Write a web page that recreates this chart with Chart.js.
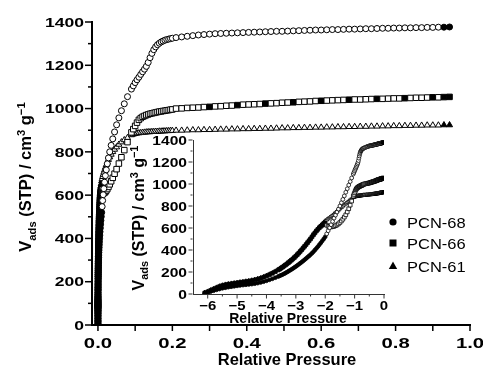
<!DOCTYPE html>
<html>
<head>
<meta charset="utf-8">
<script src="https://cdn.jsdelivr.net/npm/chart.js@4.4.1/dist/chart.umd.min.js"></script>
<style>
html, body { margin: 0; padding: 0; background: #fff; }
#wrap { position: relative; width: 483px; height: 369px; }
#wrap canvas { position: absolute; left: 0; top: 0; }
</style>
</head>
<body>
<div id="wrap">
  <canvas id="mainChart" width="483" height="369"></canvas>
  <canvas id="insetChart" width="483" height="369"></canvas>
</div>
<script>
// low pressure points, stored as log10(P/P0)
var lowLogP = [-6.1, -6.0, -5.9, -5.8, -5.7, -5.6, -5.5, -5.4, -5.3, -5.2,
    -5.1, -5.0, -4.9, -4.8, -4.7, -4.6, -4.5, -4.4, -4.3, -4.2,
    -4.1, -4.0, -3.9, -3.8, -3.7, -3.6,
    -3.55, -3.5, -3.45, -3.4, -3.35, -3.3, -3.25, -3.2, -3.15, -3.1,
    -3.05, -3.0, -2.95, -2.9, -2.85, -2.8, -2.75, -2.7, -2.65, -2.6,
    -2.55, -2.5, -2.45, -2.4, -2.35, -2.3, -2.25, -2.2, -2.15, -2.1,
    -2.05, -2.0, -1.95, -1.9, -1.85, -1.8, -1.75, -1.7, -1.65, -1.6,
    -1.55, -1.5, -1.45, -1.4, -1.35, -1.3, -1.25, -1.2, -1.15, -1.1];

// higher pressure points, stored as P/P0
var highP = [0.09, 0.095, 0.10, 0.105, 0.11, 0.115, 0.12, 0.125, 0.13, 0.135,
    0.14, 0.145, 0.15, 0.155, 0.16, 0.165, 0.17, 0.175, 0.18, 0.185,
    0.19, 0.195, 0.20,
    0.21, 0.225, 0.24, 0.255, 0.27, 0.285, 0.30, 0.315, 0.33, 0.345,
    0.36, 0.375, 0.39, 0.405, 0.42, 0.435, 0.45, 0.465, 0.48, 0.495,
    0.51, 0.525, 0.54, 0.555, 0.57, 0.585, 0.60, 0.615, 0.63, 0.645,
    0.66, 0.675, 0.69, 0.705, 0.72, 0.735, 0.75, 0.765, 0.78, 0.795,
    0.81, 0.825, 0.84, 0.855, 0.87, 0.885, 0.90, 0.915, 0.93, 0.945];

// PCN-68 (circles)
var pcn68Low = [8, 15, 22, 30, 38, 45, 52, 57, 62, 66,
    70, 74, 78, 81, 84, 87, 90, 94, 99, 105,
    112, 120, 129, 138, 148, 159,
    165, 171, 177, 184, 191, 199, 207, 215, 223, 232,
    241, 250, 260, 270, 280, 290, 301, 312, 323, 335,
    346, 358, 371, 385, 400, 415, 431, 448, 465, 483,
    501, 520, 547, 575, 602, 630, 660, 690, 717, 745,
    772, 800, 830, 860, 892, 925, 957, 990, 1022, 1055];
var pcn68High = [1090, 1105, 1120, 1133, 1145, 1158, 1170, 1182, 1195, 1213,
    1235, 1255, 1272, 1285, 1295, 1302, 1308, 1312, 1316, 1319,
    1321, 1323, 1325,
    1328, 1331, 1334, 1337, 1340, 1342, 1344, 1346, 1347, 1348,
    1349, 1350, 1351, 1352, 1353, 1354, 1355, 1356, 1357, 1357,
    1358, 1359, 1360, 1361, 1362, 1363, 1363, 1364, 1365, 1365,
    1366, 1367, 1367, 1368, 1369, 1369, 1370, 1371, 1371, 1372,
    1372, 1373, 1373, 1374, 1374, 1375, 1375, 1376, 1376, 1377];

// PCN-66 (squares)
var pcn66Low = [10, 20, 32, 44, 56, 67, 76, 83, 88, 92,
    96, 100, 104, 108, 112, 116, 121, 127, 134, 142,
    152, 163, 175, 188, 202, 218,
    226, 235, 244, 254, 264, 274, 285, 296, 307, 319,
    331, 344, 358, 372, 387, 402, 418, 434, 450, 467,
    484, 501, 520, 539, 556, 573, 588, 603, 615, 625,
    632, 635, 625, 615, 612, 610, 612, 615, 621, 628,
    638, 650, 664, 680, 699, 720, 746, 775, 808, 845];
var pcn66High = [890, 905, 920, 935, 948, 956, 962, 966, 970, 973,
    976, 978, 980, 982, 984, 986, 987, 989, 990, 992,
    993, 995, 996,
    1000, 1001, 1003, 1004, 1005, 1007, 1008, 1010, 1011, 1013,
    1014, 1016, 1018, 1019, 1020, 1021, 1023, 1024, 1025, 1027,
    1028, 1029, 1031, 1032, 1033, 1035, 1036, 1037, 1038, 1039,
    1040, 1041, 1042, 1042, 1043, 1044, 1045, 1045, 1046, 1047,
    1047, 1048, 1049, 1050, 1050, 1051, 1052, 1052, 1053, 1054];

// PCN-61 (triangles)
var pcn61Low = [15, 25, 38, 50, 62, 73, 82, 89, 94, 98,
    102, 106, 110, 114, 118, 122, 127, 133, 140, 148,
    158, 169, 181, 194, 208, 224,
    232, 241, 250, 260, 270, 280, 291, 302, 313, 325,
    337, 350, 364, 378, 393, 408, 424, 440, 456, 473,
    490, 507, 526, 545, 563, 580, 596, 612, 626, 640,
    653, 665, 675, 685, 695, 705, 716, 728, 740, 752,
    764, 776, 788, 800, 811, 822, 834, 845, 855, 865];
var pcn61High = [878, 881, 884, 886, 887, 888, 889, 890, 891, 892,
    892, 893, 893, 894, 894, 895, 895, 896, 896, 897,
    897, 898, 898,
    899, 899, 900, 901, 901, 902, 902, 903, 904, 904,
    905, 905, 906, 906, 907, 907, 908, 908, 909, 910,
    910, 911, 911, 912, 912, 913, 913, 914, 914, 915,
    915, 916, 916, 917, 917, 918, 918, 919, 919, 920,
    920, 921, 921, 922, 922, 923, 923, 923, 924, 924];

var seriesNames = ['PCN-68', 'PCN-66', 'PCN-61'];

// tick values
var mainXTicks = [0, 0.2, 0.4, 0.6, 0.8, 1.0];
var mainXMinor = [0.1, 0.3, 0.5, 0.7, 0.9];
var mainYTicks = [0, 200, 400, 600, 800, 1000, 1200, 1400];
var mainYMinor = [100, 300, 500, 700, 900, 1100, 1300];
var insetXTicks = [-6, -5, -4, -3, -2, -1, 0];
var insetXMinor = [-5.5, -4.5, -3.5, -2.5, -1.5, -0.5];
var insetYTicks = [0, 200, 400, 600, 800, 1000, 1200, 1400];
var insetYMinor = [100, 300, 500, 700, 900, 1100, 1300];

// join the low and high parts into {x, y} points
function buildPoints(lowV, highV, useLog) {
    var pts = [];
    lowLogP.forEach(function (l, i) {
        var p = Math.pow(10, l);
        pts.push({ x: useLog ? l : p, y: lowV[i], p: p });
    });
    highP.forEach(function (p, i) {
        pts.push({ x: useLog ? Math.log10(p) : p, y: highV[i], p: p });
    });
    return pts;
}

// filled below P = 0.01 (adsorption), open above
function fillFor(kind) {
    return function (c) {
        var raw = c.raw;
        if (!raw) return '#fff';
        if (raw.p < 0.0105) return '#000';
        if (raw.p > 0.925) return '#000';
        if (kind === 'sq' && raw.p >= 0.3 && c.dataIndex % 5 === 0) return '#000';
        return '#fff';
    };
}

function makeSets(useLog, rCircle, rRect, rTri, bw) {
    return [
        { label: seriesNames[0], data: buildPoints(pcn68Low, pcn68High, useLog), pointStyle: 'circle',
          pointRadius: rCircle, pointBorderWidth: bw, pointBorderColor: '#000', pointBackgroundColor: fillFor('ci') },
        { label: seriesNames[1], data: buildPoints(pcn66Low, pcn66High, useLog), pointStyle: 'rect',
          pointRadius: rRect, pointBorderWidth: bw, pointBorderColor: '#000', pointBackgroundColor: fillFor('sq') },
        { label: seriesNames[2], data: buildPoints(pcn61Low, pcn61High, useLog), pointStyle: 'triangle',
          pointRadius: rTri, pointBorderWidth: bw, pointBorderColor: '#000', pointBackgroundColor: fillFor('tr') }
    ];
}

// text stretched sideways like the original figure
function drawText(ctx, text, x, y, font, sx, align) {
    ctx.save();
    ctx.font = font;
    ctx.textAlign = align;
    ctx.textBaseline = 'alphabetic';
    ctx.fillStyle = '#000';
    ctx.translate(x, y);
    ctx.scale(sx, 1);
    ctx.fillText(text, 0, 0);
    ctx.restore();
}

function fmtMinus(v) {
    return v < 0 ? '\u2212' + Math.abs(v) : String(v);
}

// rotated "V_ads (STP) / cm^3 g^-1"
function drawVTitle(ctx, cx, cy, size) {
    var fam = '"Liberation Sans", Arial, sans-serif';
    var small = size * 0.68;
    var parts = [
        { t: 'V', f: size, dy: 0 },
        { t: 'ads', f: small, dy: size * 0.28 },
        { t: ' (STP) / cm', f: size, dy: 0 },
        { t: '3', f: small, dy: -size * 0.38 },
        { t: ' g', f: size, dy: 0 },
        { t: '\u22121', f: small, dy: -size * 0.38 }
    ];
    ctx.save();
    ctx.translate(cx, cy);
    ctx.rotate(-Math.PI / 2);
    ctx.fillStyle = '#000';
    ctx.textBaseline = 'alphabetic';
    ctx.textAlign = 'left';
    var total = 0;
    parts.forEach(function (p) {
        ctx.font = 'bold ' + p.f + 'px ' + fam;
        p.w = ctx.measureText(p.t).width;
        total += p.w;
    });
    var x = -total / 2;
    var base = size * 0.36;
    parts.forEach(function (p) {
        ctx.font = 'bold ' + p.f + 'px ' + fam;
        ctx.fillText(p.t, x, base + p.dy);
        x += p.w;
    });
    ctx.restore();
}

function tickLines(ctx, scale, values, len, horizontal, edge) {
    values.forEach(function (v) {
        var pos = scale.getPixelForValue(v);
        ctx.beginPath();
        if (horizontal) {
            ctx.moveTo(pos, edge);
            ctx.lineTo(pos, edge + len);
        } else {
            ctx.moveTo(edge, pos);
            ctx.lineTo(edge - len, pos);
        }
        ctx.stroke();
    });
}

var labelFont = '"Liberation Sans", Arial, sans-serif';

var mainDecor = {
    id: 'mainDecor',
    afterDraw: function (chart) {
        var ctx = chart.ctx;
        var xs = chart.scales.x, ys = chart.scales.y, area = chart.chartArea;
        ctx.save();
        ctx.strokeStyle = '#000';
        ctx.lineWidth = 1.5;
        tickLines(ctx, ys, mainYTicks, 6, false, area.left - 1);
        tickLines(ctx, ys, mainYMinor, 3, false, area.left - 1);
        tickLines(ctx, xs, mainXTicks, 5, true, area.bottom + 1);
        tickLines(ctx, xs, mainXMinor, 5, true, area.bottom + 1);
        ctx.restore();

        mainYTicks.forEach(function (v) {
            drawText(ctx, String(v), 84, ys.getPixelForValue(v) + 4.7, 'bold 13px ' + labelFont, 1.35, 'right');
        });
        mainXTicks.forEach(function (v) {
            drawText(ctx, v.toFixed(1), xs.getPixelForValue(v), 348, 'bold 14px ' + labelFont, 1.45, 'center');
        });
        drawText(ctx, 'Relative Pressure', 287, 365, 'bold 16.5px ' + labelFont, 1, 'center');
        drawVTitle(ctx, 25, 177, 16.5);

        // legend
        var lx = 393, ly = [222, 243, 266];
        ctx.save();
        ctx.fillStyle = '#000';
        ctx.beginPath();
        ctx.arc(lx, ly[0], 3.6, 0, Math.PI * 2);
        ctx.fill();
        ctx.fillRect(lx - 3.5, ly[1] - 3.5, 7, 7);
        ctx.beginPath();
        ctx.moveTo(lx, ly[2] - 4.5);
        ctx.lineTo(lx + 4.2, ly[2] + 3);
        ctx.lineTo(lx - 4.2, ly[2] + 3);
        ctx.closePath();
        ctx.fill();
        ctx.restore();
        seriesNames.forEach(function (n, i) {
            drawText(ctx, n, 407, ly[i] + 5.5, '15px ' + labelFont, 1.1, 'left');
        });
    }
};

var insetDecor = {
    id: 'insetDecor',
    afterDraw: function (chart) {
        var ctx = chart.ctx;
        var xs = chart.scales.x, ys = chart.scales.y, area = chart.chartArea;
        ctx.save();
        ctx.strokeStyle = '#333';
        ctx.lineWidth = 1;
        tickLines(ctx, ys, insetYTicks, 4, false, area.left - 0.5);
        tickLines(ctx, ys, insetYMinor, 2, false, area.left - 0.5);
        tickLines(ctx, xs, insetXTicks, 4, true, area.bottom + 0.5);
        tickLines(ctx, xs, insetXMinor, 2, true, area.bottom + 0.5);
        ctx.restore();

        insetYTicks.forEach(function (v) {
            drawText(ctx, String(v), 187, ys.getPixelForValue(v) + 4.7, 'bold 13px ' + labelFont, 1.2, 'right');
        });
        insetXTicks.forEach(function (v) {
            drawText(ctx, fmtMinus(v), xs.getPixelForValue(v), 310, 'bold 13px ' + labelFont, 1.15, 'center');
        });
        drawText(ctx, 'Relative Pressure', 288, 323, 'bold 14px ' + labelFont, 1, 'center');
        drawVTitle(ctx, 138, 218, 16);
    }
};

// main isotherm plot
var ctxMain = document.getElementById('mainChart').getContext('2d');
var mainChart = new Chart(ctxMain, {
    type: 'scatter',
    data: { datasets: makeSets(false, 3.0, 3.9, 3.5, 1) },
    options: {
        responsive: false,
        animation: false,
        layout: { padding: { left: 0, top: 22, right: 13, bottom: 0 } },
        plugins: { legend: { display: false }, tooltip: { enabled: false } },
        scales: {
            x: {
                type: 'linear', min: -0.016, max: 1.0,
                afterFit: function (s) { s.height = 44; },
                grid: { display: false, drawTicks: false },
                border: { display: true, color: '#000', width: 2 },
                ticks: { display: false }
            },
            y: {
                type: 'linear', min: 0, max: 1400,
                afterFit: function (s) { s.width = 92; },
                grid: { display: false, drawTicks: false },
                border: { display: true, color: '#000', width: 2 },
                ticks: { display: false }
            }
        }
    },
    plugins: [mainDecor]
});

// inset: same data against log10 of relative pressure
var ctxInset = document.getElementById('insetChart').getContext('2d');
var insetChart = new Chart(ctxInset, {
    type: 'scatter',
    data: { datasets: makeSets(true, 1.9, 2.6, 2.3, 0.8) },
    options: {
        responsive: false,
        animation: false,
        layout: { padding: { left: 0, top: 140, right: 99, bottom: 0 } },
        plugins: { legend: { display: false }, tooltip: { enabled: false } },
        scales: {
            x: {
                type: 'linear', min: -6.5, max: 0,
                afterFit: function (s) { s.height = 75; },
                grid: { display: false, drawTicks: false },
                border: { display: true, color: '#333', width: 1 },
                ticks: { display: false }
            },
            y: {
                type: 'linear', min: 0, max: 1400,
                afterFit: function (s) { s.width = 193; },
                grid: { display: false, drawTicks: false },
                border: { display: true, color: '#333', width: 1 },
                ticks: { display: false }
            }
        }
    },
    plugins: [insetDecor]
});
</script>
</body>
</html>
